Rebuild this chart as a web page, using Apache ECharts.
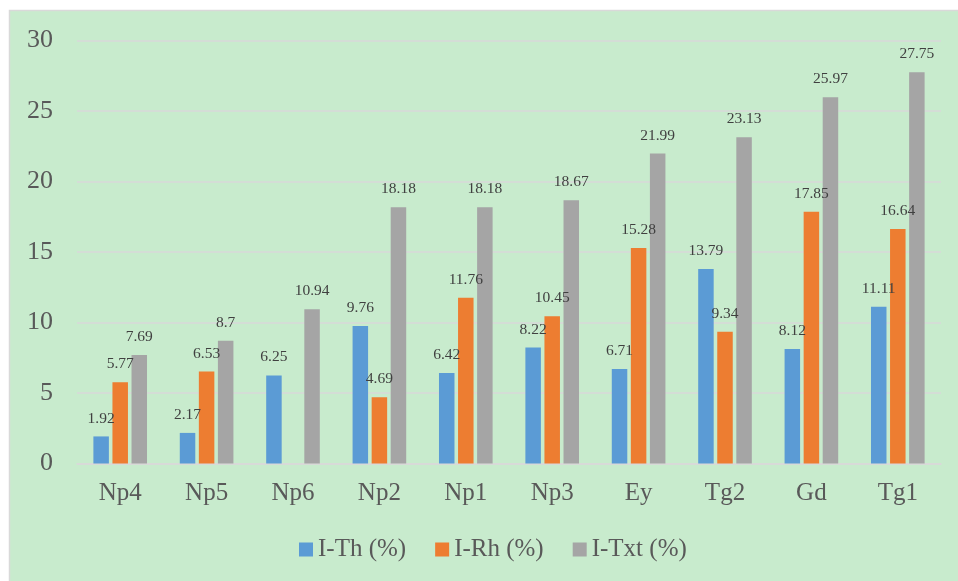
<!DOCTYPE html>
<html>
<head>
<meta charset="utf-8">
<script src="https://cdn.jsdelivr.net/npm/echarts@6/dist/echarts.min.js"></script>
<style>
html,body{margin:0;padding:0;background:#fff;}
#c{width:958px;height:581px;}
</style>
</head>
<body>
<div id="c"></div>
<script>
const categories = ['Np4','Np5','Np6','Np2','Np1','Np3','Ey','Tg2','Gd','Tg1'];
const seriesNames = ['I-Th (%)','I-Rh (%)','I-Txt (%)'];
const iTh = [1.92, 2.17, 6.25, 9.76, 6.42, 8.22, 6.71, 13.79, 8.12, 11.11];
const iRh = [5.77, 6.53, null, 4.69, 11.76, 10.45, 15.28, 9.34, 17.85, 16.64];
const iTxt = [7.69, 8.7, 10.94, 18.18, 18.18, 18.67, 21.99, 23.13, 25.97, 27.75];
const yTicks = [0, 5, 10, 15, 20, 25, 30];

const colors = ['#5b9bd5','#ed7d31','#a5a5a5'];
const font = '"Liberation Serif","Times New Roman",serif';
const chart = echarts.init(document.getElementById('c'), null, {renderer:'canvas'});
function mk(name, data, color){
  return {
    name: name, type: 'bar', data: data,
    barWidth: 15.5, barGap: '23%',
    itemStyle: {color: color},
    label: {show: true, position: 'top', distance: 10, fontSize: 15.5, color: '#404040', fontFamily: font,
      formatter: p => (p.value == null ? '' : String(p.value))}
  };
}
chart.setOption({
  animation: false,
  backgroundColor: '#ffffff',
  graphic: [{type:'rect', shape:{x:9.5, y:10.5, width:960, height:580}, style:{fill:'#c8ebcd', stroke:'#d9d9d9', lineWidth:1.5}, z:-10}],
  grid: {left: 77, right: 17, top: 40.5, bottom: 117.5},
  legend: {
    data: seriesNames, bottom: 14, left: 294, icon: 'rect', itemWidth: 14, itemHeight: 14, itemGap: 29,
    textStyle: {fontFamily: font, fontSize: 25, color: '#595959'}
  },
  xAxis: {
    type: 'category', data: categories,
    axisLine: {lineStyle: {color: '#d9d9d9', width: 1.5}},
    axisTick: {show: false},
    axisLabel: {fontFamily: font, fontSize: 25, color: '#595959', margin: 17}
  },
  yAxis: {
    type: 'value', min: yTicks[0], max: yTicks[yTicks.length-1], interval: 5,
    axisLine: {show: false}, axisTick: {show: false},
    splitLine: {lineStyle: {color: '#d9d9d9', width: 1.5}},
    axisLabel: {fontFamily: font, fontSize: 26, color: '#595959', margin: 24}
  },
  series: [mk(seriesNames[0], iTh, colors[0]), mk(seriesNames[1], iRh, colors[1]), mk(seriesNames[2], iTxt, colors[2])]
});
</script>
</body>
</html>
